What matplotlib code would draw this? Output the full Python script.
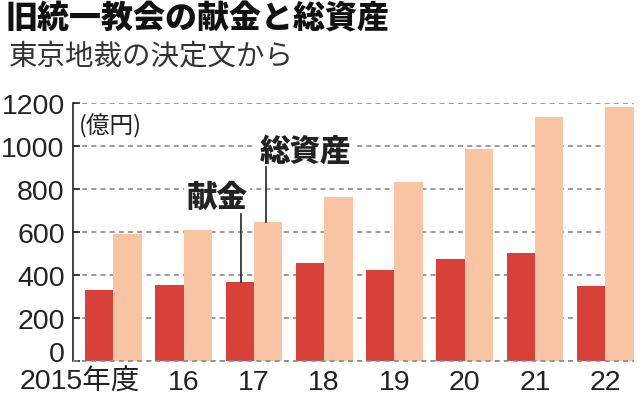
import numpy as np
import matplotlib
matplotlib.use("Agg")
from matplotlib import pyplot as plt

plt.rcParams['font.family'] = ['Liberation Sans', 'Noto Sans CJK JP', 'DejaVu Sans']

years = ['2015年度', '16', '17', '18', '19', '20', '21', '22']
donation = [332, 355, 366, 456, 423, 474, 501, 349]   # 献金（億円）
assets = [589, 609, 645, 764, 832, 985, 1136, 1183]     # 総資産（億円）
yticks = [0, 200, 400, 600, 800, 1000, 1200]

red = '#d8403a'
peach = '#f9c4a4'
ink = '#222222'
cjk = ['Noto Sans CJK JP', 'DejaVu Sans']

fig = plt.figure(figsize=(6.4, 4.02), dpi=100)
ax = fig.add_axes([73 / 640, 40 / 402, 560.5 / 640, 258 / 402])

x = np.arange(len(years))
w = 0.403
ax.bar(x - w / 2, donation, w, color=red, zorder=3, clip_on=False)
ax.bar(x + w / 2, assets, w, color=peach, zorder=3, clip_on=False)

ax.set_xlim(-0.573, 7.4)
ax.set_ylim(0, 1200)
ax.set_yticks(yticks)
ax.set_yticklabels([str(v) for v in yticks], fontsize=20.5, color=ink)
ax.yaxis.grid(True, color='#8a8a8a', linestyle=(0, (3, 2.5)), linewidth=1.2, zorder=1)
ax.set_axisbelow(True)
ax.axhline(0, color='#8a8a8a', linestyle=(0, (3, 2.5)), linewidth=1.2, zorder=4, clip_on=False)
ax.tick_params(axis='y', direction='in', length=5, width=1.2, pad=6, color=ink)
ax.tick_params(axis='x', length=0, pad=6)

for s in ['top', 'right', 'bottom']:
    ax.spines[s].set_visible(False)
ax.spines['left'].set_linewidth(1.2)
ax.spines['left'].set_color(ink)

ax.set_xticks(x)
ax.set_xticklabels([''] + years[1:], fontsize=20.5, color=ink)
# first year label is right aligned under its group
ax.text(0.375, -0.03, years[0], transform=ax.get_xaxis_transform(), ha='right', va='top',
        fontsize=20.5, color=ink)
ax.get_yticklabels()[0].set_verticalalignment('baseline')

ax.text(-0.49, 1095, '(億円)', fontsize=17, family=cjk, color=ink, va='center', ha='left',
        bbox=dict(facecolor='white', edgecolor='none', pad=1), zorder=4)

ax.text(1.475, 767, '献金', fontsize=22, family=cjk, weight='black', color=ink,
        ha='center', va='center', bbox=dict(facecolor='white', edgecolor='none', pad=2), zorder=4)
ax.plot([1.812, 1.812], [366, 684], color=ink, linewidth=1.2, zorder=4)

ax.text(2.74, 981, '総資産', fontsize=22, family=cjk, weight='black', color=ink,
        ha='center', va='center', bbox=dict(facecolor='white', edgecolor='none', pad=3), zorder=4)
ax.plot([2.172, 2.172], [645, 902], color=ink, linewidth=1.2, zorder=4)

fig.text(5 / 640, 1 - 19 / 402, '旧統一教会の献金と総資産', fontsize=23, family=cjk, weight='black',
         color='#111111', ha='left', va='center')
fig.text(9 / 640, 1 - 56 / 402, '東京地裁の決定文から', fontsize=20.5, family=cjk,
         color='#333333', ha='left', va='center')

fig.savefig('out.png', dpi=100, facecolor='white')
